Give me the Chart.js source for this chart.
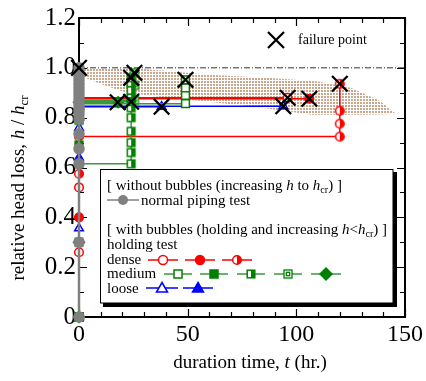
<!DOCTYPE html>
<html>
<head>
<meta charset="utf-8">
<script src="https://cdn.jsdelivr.net/npm/chart.js@4/dist/chart.umd.min.js"></script>
<style>
  html, body { margin: 0; padding: 0; background: #fff; }
  #wrap { position: relative; width: 426px; height: 381px; }
</style>
</head>
<body>
<div id="wrap"><canvas id="c" width="426" height="381"></canvas></div>
<script>
// ---------- data ----------
const xTickValues = [0, 50, 100, 150];
const xTickLabels = ['0', '50', '100', '150'];
const yTickValues = [0, 0.2, 0.4, 0.6, 0.8, 1.0, 1.2];
const yTickLabels = ['0', '0.2', '0.4', '0.6', '0.8', '1.0', '1.2'];

// normal piping test (without bubbles)
const normalT = [0, 0, 0, 0, 0, 0, 0, 0, 0, 0, 0, 0, 0, 0, 0, 0, 0, 0, 0];
const normalH = [0, 0.30, 0.615, 0.675, 0.735, 0.795, 0.815, 0.83, 0.845, 0.86, 0.875, 0.89, 0.905, 0.92, 0.935, 0.95, 0.965, 0.98, 1.0];

// dense
const denseOpenT = [0, 0, 0, 0, 96];
const denseOpenH = [0, 0.26, 0.52, 0.88, 0.88];
const denseFilledT = [0, 0, 0, 106];
const denseFilledH = [0, 0.40, 0.876, 0.876];
const denseHalfT = [0, 0, 0, 120, 120, 120, 120];
const denseHalfH = [0, 0.575, 0.724, 0.724, 0.776, 0.828, 0.936];

// medium
const mediumOpenT = [0, 0, 49, 49, 49, 49];
const mediumOpenH = [0, 0.856, 0.856, 0.89, 0.92, 0.952];
const mediumFilledT = [0, 0, 0, 24];
const mediumFilledH = [0, 0.69, 0.864, 0.864];
const mediumHalfT = [0, 0, 0, 24, 24, 24, 24, 24, 24, 24, 24, 24, 24];
const mediumHalfH = [0, 0.30, 0.615, 0.615, 0.66, 0.70, 0.745, 0.80, 0.84, 0.88, 0.91, 0.94, 0.96];
const mediumBoxT = [0, 0, 0, 25.5, 25.5, 25.5];
const mediumBoxH = [0, 0.79, 0.87, 0.87, 0.93, 0.98];
const mediumDiamondT = [0, 0, 0, 18];
const mediumDiamondH = [0, 0.30, 0.862, 0.862];

// loose
const looseOpenT = [0, 0, 0, 0, 94];
const looseOpenH = [0, 0.356, 0.76, 0.846, 0.846];
const looseFilledT = [0, 0, 0, 0, 38];
const looseFilledH = [0, 0.64, 0.80, 0.844, 0.844];

// failure points
const failureT = [0, 17.8, 24, 24, 25.5, 38, 49, 94, 96, 106, 120];
const failureH = [1.0, 0.862, 0.864, 0.96, 0.98, 0.844, 0.952, 0.846, 0.88, 0.876, 0.936];

// critical level line
const criticalT = [0, 150];
const criticalH = [1.0, 1.0];

// shaded band (upper boundary left->right, then lower boundary right->left)
const bandT = [0, 30, 60, 90, 110, 125, 138, 146, 130, 107, 80, 55, 32, 20, 10, 0];
const bandH = [1.0, 0.995, 0.972, 0.958, 0.945, 0.92, 0.87, 0.815, 0.812, 0.812, 0.845, 0.868, 0.888, 0.905, 0.935, 0.97];

// ---------- styles ----------
const RED = '#ff0000', GREEN = '#008000', GREEN_LINE = '#3a9a3a', BLUE = '#0000ff', GRAY = '#808080';
const SERIF = '"Liberation Serif", "Times New Roman", serif';

function pts(t, h) { return t.map((v, i) => ({ x: v, y: h[i] })); }
function mkCanvas(size, draw) {
  const c = document.createElement('canvas');
  c.width = size; c.height = size;
  draw(c.getContext('2d'), size / 2);
  return c;
}
const halfCircleImg = mkCanvas(12, (g, m) => {
  const r = 4.3;
  g.fillStyle = '#fff'; g.beginPath(); g.arc(m, m, r, 0, 2 * Math.PI); g.fill();
  g.fillStyle = RED; g.beginPath(); g.moveTo(m, m - r); g.arc(m, m, r, -Math.PI / 2, Math.PI / 2); g.closePath(); g.fill();
  g.strokeStyle = RED; g.lineWidth = 1.5; g.beginPath(); g.arc(m, m, r, 0, 2 * Math.PI); g.stroke();
});
const halfSquareImg = mkCanvas(12, (g, m) => {
  const s = 3.8;
  g.fillStyle = '#fff'; g.fillRect(m - s, m - s, 2 * s, 2 * s);
  g.fillStyle = GREEN; g.fillRect(m, m - s, s, 2 * s);
  g.strokeStyle = GREEN; g.lineWidth = 1.5; g.strokeRect(m - s, m - s, 2 * s, 2 * s);
});
const boxSquareImg = mkCanvas(12, (g, m) => {
  const s = 4;
  g.fillStyle = '#fff'; g.fillRect(m - s, m - s, 2 * s, 2 * s);
  g.strokeStyle = GREEN; g.lineWidth = 1.3; g.strokeRect(m - s, m - s, 2 * s, 2 * s);
  g.strokeRect(m - 1.7, m - 1.7, 3.4, 3.4);
});
const patternCanvas = mkCanvas(3, (g) => {
  g.clearRect(0, 0, 3, 3);
  g.fillStyle = 'rgba(180,130,95,0.7)'; g.fillRect(0, 0, 2, 2);
});

function series(t, h, o) {
  return Object.assign({
    data: pts(t, h), showLine: true, clip: false, borderWidth: 1.5,
    pointBorderWidth: 1.5, pointRadius: 4.3, pointHoverRadius: 4.3
  }, o);
}

const ctx = document.getElementById('c').getContext('2d');
const pattern = ctx.createPattern(patternCanvas, 'repeat');

const datasets = [
  { data: pts(failureT, failureH), showLine: false, clip: false, pointStyle: 'crossRot', pointRadius: 11, pointHoverRadius: 11,
    pointBorderWidth: 2.3, borderColor: '#000', backgroundColor: '#000', order: 0 },
  series(normalT, normalH, { borderColor: GRAY, borderWidth: 2.5, pointBackgroundColor: GRAY, pointBorderColor: GRAY, pointRadius: 5, pointStyle: 'circle', order: 1 }),
  series(denseOpenT, denseOpenH, { borderColor: RED, pointBorderColor: RED, pointBackgroundColor: '#fff', pointStyle: 'circle', order: 5 }),
  series(denseFilledT, denseFilledH, { borderColor: RED, pointBorderColor: RED, pointBackgroundColor: RED, pointStyle: 'circle', order: 5 }),
  series(denseHalfT, denseHalfH, { borderColor: RED, pointStyle: halfCircleImg, order: 5 }),
  series(mediumOpenT, mediumOpenH, { borderColor: GREEN_LINE, pointBorderColor: GREEN, pointBackgroundColor: '#fff', pointStyle: 'rect', pointRadius: 5.5, order: 4 }),
  series(mediumFilledT, mediumFilledH, { borderColor: GREEN_LINE, pointBorderColor: GREEN, pointBackgroundColor: GREEN, pointStyle: 'rect', pointRadius: 5.5, order: 4 }),
  series(mediumHalfT, mediumHalfH, { borderColor: GREEN_LINE, pointStyle: halfSquareImg, order: 4 }),
  series(mediumBoxT, mediumBoxH, { borderColor: GREEN_LINE, pointStyle: boxSquareImg, order: 4 }),
  series(mediumDiamondT, mediumDiamondH, { borderColor: GREEN_LINE, pointBorderColor: GREEN, pointBackgroundColor: GREEN, pointStyle: 'rectRot', pointRadius: 5.5, order: 4 }),
  series(looseOpenT, looseOpenH, { borderColor: BLUE, pointBorderColor: BLUE, pointBackgroundColor: '#fff', pointStyle: 'triangle', pointRadius: 5, order: 6 }),
  series(looseFilledT, looseFilledH, { borderColor: BLUE, pointBorderColor: BLUE, pointBackgroundColor: BLUE, pointStyle: 'triangle', pointRadius: 5, order: 6 }),
  { data: pts(criticalT, criticalH), showLine: true, borderColor: '#333', borderWidth: 1, borderDash: [6, 2, 1, 2], pointRadius: 0, order: 20 },
  { data: pts(bandT, bandH), showLine: true, fill: 'shape', backgroundColor: pattern, borderWidth: 0, borderColor: 'rgba(0,0,0,0)', pointRadius: 0, order: 30 }
];

// ---------- helpers for rich text ----------
function runWidth(g, runs, size) {
  let w = 0;
  runs.forEach(r => { g.font = (r.it ? 'italic ' : '') + (r.sub ? size * 0.68 : size) + 'px ' + SERIF; w += g.measureText(r.t).width; });
  return w;
}
function drawRuns(g, runs, x, y, size) {
  g.textBaseline = 'alphabetic'; g.textAlign = 'left'; g.fillStyle = '#000';
  runs.forEach(r => {
    const fs = r.sub ? size * 0.68 : size;
    g.font = (r.it ? 'italic ' : '') + fs + 'px ' + SERIF;
    g.fillText(r.t, x, y + (r.sub ? size * 0.22 : 0));
    x += g.measureText(r.t).width;
  });
  return x;
}
function drawMarker(g, kind, x, y) {
  g.save(); g.lineWidth = 1.5;
  if (kind === 'gcircle') { g.fillStyle = GRAY; g.beginPath(); g.arc(x, y, 5, 0, 2 * Math.PI); g.fill(); }
  else if (kind === 'ocircle' || kind === 'fcircle') {
    g.fillStyle = kind === 'ocircle' ? '#fff' : RED; g.strokeStyle = RED;
    g.beginPath(); g.arc(x, y, 4.5, 0, 2 * Math.PI); g.fill(); g.stroke();
  } else if (kind === 'hcircle') { g.drawImage(halfCircleImg, x - 6, y - 6); }
  else if (kind === 'osquare' || kind === 'fsquare') {
    g.fillStyle = kind === 'osquare' ? '#fff' : GREEN; g.strokeStyle = GREEN;
    g.fillRect(x - 4, y - 4, 8, 8); g.strokeRect(x - 4, y - 4, 8, 8);
  } else if (kind === 'hsquare') { g.drawImage(halfSquareImg, x - 6, y - 6); }
  else if (kind === 'bsquare') { g.drawImage(boxSquareImg, x - 6, y - 6); }
  else if (kind === 'diamond') {
    g.fillStyle = GREEN; g.beginPath(); g.moveTo(x, y - 7); g.lineTo(x + 7, y); g.lineTo(x, y + 7); g.lineTo(x - 7, y); g.closePath(); g.fill();
  } else if (kind === 'otri' || kind === 'ftri') {
    g.fillStyle = kind === 'otri' ? '#fff' : BLUE; g.strokeStyle = BLUE;
    g.beginPath(); g.moveTo(x, y - 5.5); g.lineTo(x + 5.5, y + 4); g.lineTo(x - 5.5, y + 4); g.closePath(); g.fill(); g.stroke();
  } else if (kind === 'x') {
    g.strokeStyle = '#000'; g.lineWidth = 2.3;
    g.beginPath(); g.moveTo(x - 8, y - 8); g.lineTo(x + 8, y + 8); g.moveTo(x + 8, y - 8); g.lineTo(x - 8, y + 8); g.stroke();
  }
  g.restore();
}
function legendSym(g, kind, color, cx, y, half) {
  g.save(); g.strokeStyle = color; g.lineWidth = 1.5;
  g.beginPath(); g.moveTo(cx - half, y); g.lineTo(cx + half, y); g.stroke(); g.restore();
  drawMarker(g, kind, cx, y);
}

const framePlugin = {
  id: 'frame',
  beforeDatasetsDraw(chart) {
    const g = chart.ctx, a = chart.chartArea, xs = chart.scales.x, ys = chart.scales.y;
    g.save();
    g.strokeStyle = '#000'; g.lineWidth = 2;
    g.strokeRect(a.left, a.top, a.right - a.left, a.bottom - a.top);
    g.lineWidth = 1.2;
    g.beginPath();
    for (let v = 0; v <= 150; v += 10) {
      const px = Math.round(xs.getPixelForValue(v)) + 0.5;
      const len = v % 50 === 0 ? 8 : 5;
      g.moveTo(px, a.bottom); g.lineTo(px, a.bottom - len);
      g.moveTo(px, a.top); g.lineTo(px, a.top + len);
    }
    for (let k = 0; k <= 12; k++) {
      const v = k / 10;
      const py = Math.round(ys.getPixelForValue(v)) + 0.5;
      const len = k % 2 === 0 ? 8 : 5;
      g.moveTo(a.left, py); g.lineTo(a.left + len, py);
      g.moveTo(a.right, py); g.lineTo(a.right - len, py);
    }
    g.stroke();
    g.restore();
  },
  afterDatasetsDraw(chart) {
    const g = chart.ctx;
    g.save();
    // failure point key
    drawMarker(g, 'x', 276, 40);
    g.font = '14px ' + SERIF; g.fillStyle = '#000'; g.textBaseline = 'middle'; g.textAlign = 'left';
    g.fillText('failure point', 298, 40);

    // legend box
    g.fillStyle = '#000';
    g.fillRect(393, 172, 4, 135);
    g.fillRect(103, 303, 294, 4);
    g.fillStyle = '#fff';
    g.fillRect(100.5, 169.5, 292.5, 133.5);
    g.strokeStyle = '#000'; g.lineWidth = 1;
    g.strokeRect(100.5, 169.5, 292.5, 133.5);

    const fs = 15;
    drawRuns(g, [{ t: '[ without bubbles (increasing ' }, { t: 'h', it: 1 }, { t: ' to ' }, { t: 'h', it: 1 }, { t: 'cr', sub: 1 }, { t: ') ]' }], 107, 190, fs);
    legendSym(g, 'gcircle', GRAY, 123, 200, 16);
    drawRuns(g, [{ t: 'normal piping test' }], 141, 205, fs);
    drawRuns(g, [{ t: '[ with bubbles (holding and increasing ' }, { t: 'h', it: 1 }, { t: '<' }, { t: 'h', it: 1 }, { t: 'cr', sub: 1 }, { t: ') ]' }], 107, 234, fs);
    drawRuns(g, [{ t: 'holding test' }], 107, 249, fs);
    drawRuns(g, [{ t: 'dense' }], 107, 264, fs);
    drawRuns(g, [{ t: 'medium' }], 107, 278, fs);
    drawRuns(g, [{ t: 'loose' }], 107, 293, fs);

    legendSym(g, 'ocircle', RED, 163, 260, 15);
    legendSym(g, 'fcircle', RED, 200, 260, 15);
    legendSym(g, 'hcircle', RED, 237, 260, 15);
    legendSym(g, 'osquare', GREEN_LINE, 178, 274, 14);
    legendSym(g, 'fsquare', GREEN_LINE, 214, 274, 14);
    legendSym(g, 'hsquare', GREEN_LINE, 251, 274, 14);
    legendSym(g, 'bsquare', GREEN_LINE, 288, 274, 14);
    legendSym(g, 'diamond', GREEN_LINE, 326, 274, 15);
    legendSym(g, 'otri', BLUE, 162, 288, 16);
    legendSym(g, 'ftri', BLUE, 198, 288, 15);

    // axis titles
    const ts = 19;
    const xr = [{ t: 'duration time, ' }, { t: 't', it: 1 }, { t: ' (hr.)' }];
    const xw = runWidth(g, xr, ts);
    drawRuns(g, xr, 250 - xw / 2, 368, ts);

    const yr = [{ t: 'relative head loss, ' }, { t: 'h', it: 1 }, { t: ' / ' }, { t: 'h', it: 1 }, { t: 'cr', sub: 1 }];
    const yw = runWidth(g, yr, ts);
    g.save();
    g.translate(24, 188);
    g.rotate(-Math.PI / 2);
    drawRuns(g, yr, -yw / 2, 0, ts);
    g.restore();
    g.restore();
  }
};

new Chart(ctx, {
  type: 'scatter',
  data: { datasets },
  options: {
    responsive: false,
    animation: false,
    events: [],
    layout: { padding: { top: 17, right: 19, left: 0, bottom: 0 } },
    plugins: { legend: { display: false }, tooltip: { enabled: false } },
    scales: {
      x: {
        type: 'linear', min: 0, max: 150,
        grid: { display: false, drawTicks: false },
        border: { display: false },
        ticks: {
          stepSize: 50, color: '#000', padding: 3, maxRotation: 0,
          font: { family: SERIF, size: 24 },
          callback: v => { const i = xTickValues.indexOf(v); return i >= 0 ? xTickLabels[i] : ''; }
        },
        afterFit(s) { s.height = 64; }
      },
      y: {
        type: 'linear', min: 0, max: 1.2,
        grid: { display: false, drawTicks: false },
        border: { display: false },
        ticks: {
          stepSize: 0.2, color: '#000', padding: 3,
          font: { family: SERIF, size: 25 },
          callback: v => { const i = yTickValues.findIndex(a => Math.abs(a - v) < 1e-6); return i >= 0 ? yTickLabels[i] : ''; }
        },
        afterFit(s) { s.width = 79; }
      }
    }
  },
  plugins: [framePlugin]
});
</script>
</body>
</html>
